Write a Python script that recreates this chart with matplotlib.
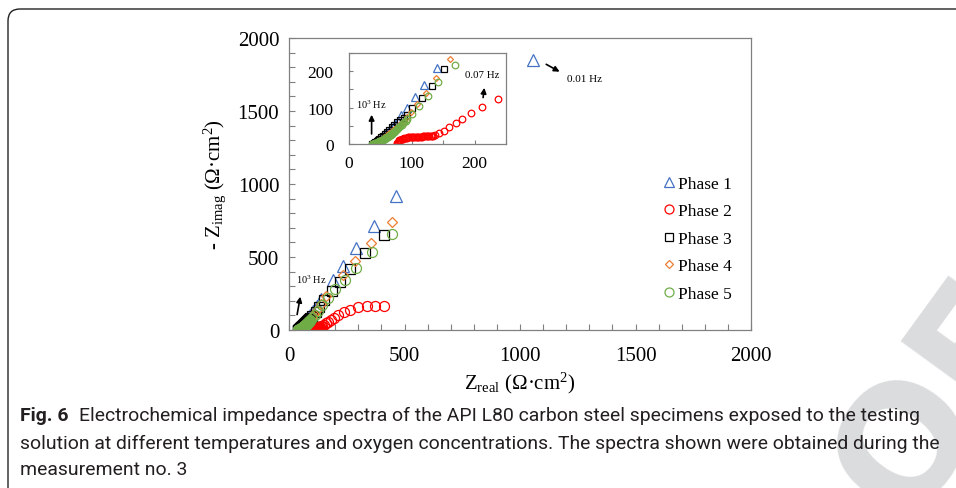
##### imports #####
import matplotlib
matplotlib.use('Agg')
import matplotlib.pyplot as plt
import matplotlib.patches as mpatches
from matplotlib.transforms import IdentityTransform
from matplotlib.ticker import MultipleLocator

###### DATA ######
# Nyquist spectra, Z_real vs -Z_imag (Ohm cm2)
phase_names = ['Phase 1', 'Phase 2', 'Phase 3', 'Phase 4', 'Phase 5']

p1_x = [36, 38, 40, 42, 44, 46, 49, 52, 55, 58, 62, 66, 70, 74, 78, 83, 93, 105, 120, 140, 191, 235, 289, 367, 465, 1055]
p1_y = [0, 1, 2, 4, 6, 9, 13, 17, 22, 27, 33, 40, 47, 55, 63, 80, 100, 130, 162, 210, 342, 436, 559, 714, 920, 1849]

p2_x = [76, 77, 78, 79, 80, 81, 82, 84, 86, 88, 90, 92, 94, 96, 98, 100, 102, 104, 106, 108, 110, 112, 114, 116,
        118, 120, 122, 124, 126, 128, 130, 132, 134, 137, 144, 152, 160, 170, 180, 195, 212, 238, 263, 300, 336, 371, 412]
p2_y = [0, 3, 6, 8, 10, 11, 12, 14, 15, 16, 17, 17, 18, 18, 19, 19, 19, 19, 20, 20, 20, 20, 20, 20,
        21, 21, 21, 21, 21, 21, 22, 22, 23, 24, 29, 36, 46, 57, 68, 85, 103, 123, 139, 155, 166, 166, 166]

p3_x = [37, 38, 40, 42, 44, 46, 48, 51, 54, 57, 60, 64, 68, 72, 77, 82, 87, 92, 101, 116, 132, 152, 184, 220, 266, 328, 410]
p3_y = [0, 1, 3, 5, 8, 11, 14, 18, 23, 28, 33, 39, 46, 53, 60, 67, 72, 80, 99, 126, 160, 205, 269, 331, 418, 525, 651]

p4_x = [38, 39, 40, 42, 44, 46, 48, 50, 53, 56, 60, 64, 68, 72, 77, 82, 87, 92, 98, 108, 123, 138, 161, 232, 285, 353, 444]
p4_y = [0, 1, 2, 3, 5, 7, 9, 12, 15, 19, 24, 29, 35, 41, 48, 56, 64, 74, 87, 110, 139, 180, 233, 377, 475, 596, 737]

p5_x = [37, 38, 39, 40, 41, 42, 43, 44, 45, 46, 47, 48, 49, 50, 51, 52, 53, 54, 55, 56, 57, 58, 59, 60, 61, 62,
        63, 64, 65, 66, 67, 68, 69, 70, 71, 72, 73, 74, 75, 76, 77, 78, 80, 82, 84, 86, 88, 90, 92,
        100, 112, 126, 142, 168, 199, 242, 289, 361, 446]
p5_y = [0, 0, 1, 1, 2, 2, 3, 3, 4, 5, 6, 7, 7, 8, 9, 10, 11, 12, 13, 14, 15, 16, 17, 18, 19, 20,
        21, 22, 24, 25, 26, 28, 29, 31, 32, 34, 35, 37, 38, 40, 41, 43, 46, 50, 53, 57, 60, 64, 68,
        82, 105, 132, 171, 216, 281, 342, 422, 532, 657]

series_x = [p1_x, p2_x, p3_x, p4_x, p5_x]
series_y = [p1_y, p2_y, p3_y, p4_y, p5_y]

# styles
colors = ['#4472C4', '#FF0000', '#000000', '#ED7D31', '#70AD47']
markers = ['^', 'o', 's', 'D', 'o']
sizes_main = [8.3, 7.2, 6.5, 4.6, 7.2]

caption_lines = [
    'Electrochemical impedance spectra of the API L80 carbon steel specimens exposed to the testing',
    'solution at different temperatures and oxygen concentrations. The spectra shown were obtained during the',
    'measurement no. 3',
]

###### FIGURE ######
plt.rcParams['font.family'] = 'Liberation Serif'
plt.rcParams['mathtext.fontset'] = 'custom'
plt.rcParams['mathtext.rm'] = 'Liberation Serif'
plt.rcParams['mathtext.it'] = 'Liberation Serif:italic'

W, H = 956, 489
fig = plt.figure(figsize=(W / 100, H / 100), dpi=100)

# watermark behind everything (display pixels, origin bottom-left)
fig.text(828, -58, 'PROOF', transform=IdentityTransform(), fontsize=115, fontweight='bold',
         family='DejaVu Sans', color='#dadcdd', rotation=54, ha='center', va='center',
         rotation_mode='anchor', zorder=-1)

# rounded frame around figure + caption
frame = mpatches.FancyBboxPatch((8, -30), 1000, H - 10 + 30, boxstyle='round,pad=0,rounding_size=12',
                                transform=IdentityTransform(), fill=False, ec='#222222', lw=1.0)
fig.patches.append(frame)

spine_col = '#808080'

#main axes
ax = fig.add_axes([289 / W, 1 - 331 / H, 462 / W, 292 / H])
for i in range(5):
    ax.plot(series_x[i], series_y[i], ls='none', marker=markers[i], ms=sizes_main[i], mfc='none',
            mec=colors[i], mew=0.9, label=phase_names[i])
ax.set_xlim(0, 2000)
ax.set_ylim(0, 2000)
ax.xaxis.set_major_locator(MultipleLocator(500))
ax.xaxis.set_minor_locator(MultipleLocator(100))
ax.yaxis.set_major_locator(MultipleLocator(500))
ax.yaxis.set_minor_locator(MultipleLocator(100))
ax.tick_params(which='both', direction='in', length=4, width=0.8, color=spine_col)
ax.tick_params(axis='both', labelsize=15)
ax.tick_params(axis='x', pad=11.5)
ax.tick_params(axis='y', pad=7)
for s in ax.spines.values():
    s.set_color(spine_col)
    s.set_linewidth(0.9)
ax.set_xlabel('Z$_{\\rm real}$ (Ω·cm$^2$)', fontsize=15)
ax.set_ylabel('- Z$_{\\rm imag}$ (Ω·cm$^2$)', fontsize=15)
ax.xaxis.set_label_coords(0.5, -0.135)
ax.yaxis.set_label_coords(-0.132, 0.5)

leg = ax.legend(loc='upper left', bbox_to_anchor=(0.808, 0.528), frameon=False, fontsize=12.5,
                handlelength=0.8, handletextpad=0.1, labelspacing=0.65, borderpad=0,
                borderaxespad=0, markerscale=0.9)

# frequency marks
ax.annotate('', xy=(51, 247), xytext=(33, 87),
            arrowprops=dict(arrowstyle='-|>', color='black', lw=1.2, mutation_scale=8))
ax.text(30, 349, '10$^3$ Hz', fontsize=7.5, ha='left', va='center')
ax.annotate('', xy=(1182, 1760), xytext=(1103, 1829),
            arrowprops=dict(arrowstyle='-|>', color='black', lw=1.2, mutation_scale=8))
ax.text(1205, 1724, '0.01 Hz', fontsize=8, ha='left', va='center')

#inset
axin = fig.add_axes([349 / W, 1 - 145 / H, 157 / W, 91 / H])
for i in range(5):
    axin.plot(series_x[i], series_y[i], ls='none', marker=markers[i], ms=sizes_main[i] * 0.66, mfc='none',
              mec=colors[i], mew=0.9)
axin.set_xlim(0, 250)
axin.set_ylim(0, 250)
axin.xaxis.set_major_locator(MultipleLocator(100))
axin.xaxis.set_minor_locator(MultipleLocator(50))
axin.yaxis.set_major_locator(MultipleLocator(100))
axin.yaxis.set_minor_locator(MultipleLocator(50))
axin.tick_params(which='both', direction='in', length=3, width=0.8, color=spine_col)
axin.tick_params(axis='both', labelsize=12.5)
axin.tick_params(axis='y', pad=11)
axin.tick_params(axis='x', pad=8)
for s in axin.spines.values():
    s.set_color(spine_col)
    s.set_linewidth(0.9)
axin.annotate('', xy=(36, 88), xytext=(36, 20),
              arrowprops=dict(arrowstyle='-|>', color='black', lw=1.2, mutation_scale=8))
axin.text(11, 111, '10$^3$ Hz', fontsize=7.5, ha='left', va='center')
axin.annotate('', xy=(216, 162), xytext=(213, 120),
              arrowprops=dict(arrowstyle='-|>', color='black', lw=1.2, mutation_scale=8))
axin.text(212, 190, '0.07 Hz', fontsize=7.8, ha='center', va='center')

#caption
cap_font = ['Liberation Sans Narrow', 'Roboto']
renderer = fig.canvas.get_renderer()
fs = 14
bold = fig.text(20, H - 416, 'Fig. 6', transform=IdentityTransform(), fontsize=fs, fontweight='bold',
                family=cap_font, va='center', color='#231f20')
rest = fig.text(0, H - 416, caption_lines[0], transform=IdentityTransform(), fontsize=fs,
                family=cap_font, va='center', color='#231f20')
bb = bold.get_window_extent(renderer)
rb = rest.get_window_extent(renderer)
gap = 0.55 * fs * 100 / 72
total = bb.width + gap + rb.width
fs = fs * (927 - 20) / total
bold.set_fontsize(fs)
rest.set_fontsize(fs)
bb = bold.get_window_extent(renderer)
rest.set_x(bb.x1 + 0.55 * fs * 100 / 72)
fig.text(20, H - 444, caption_lines[1], transform=IdentityTransform(), fontsize=fs,
         family=cap_font, va='center', color='#231f20')
fig.text(20, H - 470, caption_lines[2], transform=IdentityTransform(), fontsize=fs,
         family=cap_font, va='center', color='#231f20')

fig.savefig('out.png', dpi=100)
